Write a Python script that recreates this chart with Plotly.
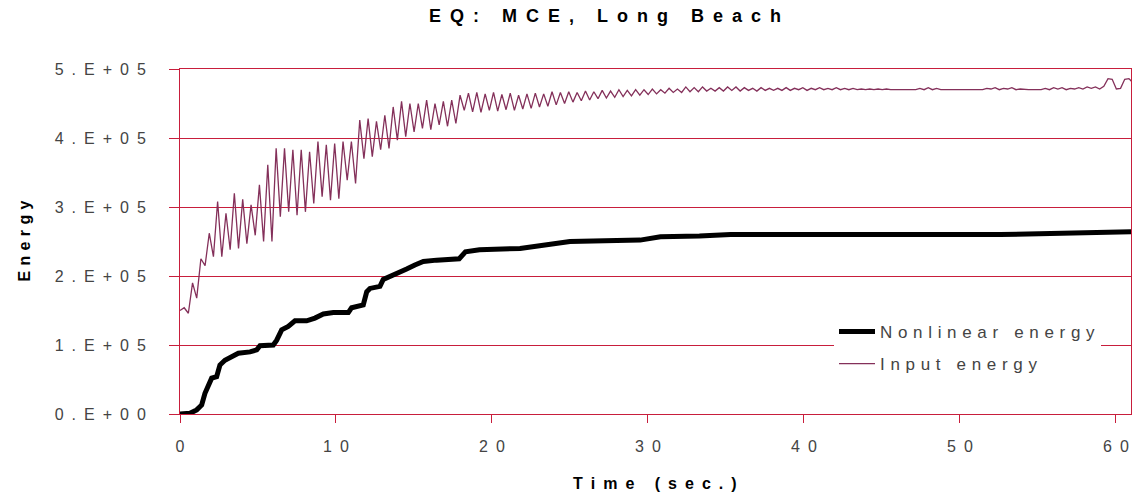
import numpy as np
import plotly.graph_objects as go

# ---------------- data (energy values in units of 1e5) ----------------
TITLE = "EQ: MCE, Long Beach"
X_TITLE = "Time (sec.)"
Y_TITLE = "Energy"
SERIES_NAMES = ["Nonlinear energy", "Input energy"]

X_TICKS = [0, 10, 20, 30, 40, 50, 60]
Y_TICKS = [0, 1, 2, 3, 4, 5]
Y_TICK_LABELS = ["0.E+00", "1.E+05", "2.E+05", "3.E+05", "4.E+05", "5.E+05"]
ENERGY_UNIT = 1e5

NONLIN_T = [0.0, 0.64, 1.07, 1.39, 1.6, 1.82, 2.03, 2.35, 2.56, 2.88, 3.31, 3.74,
            4.49, 4.92, 5.13, 5.98, 6.2, 6.52, 6.94, 7.37, 8.12, 8.65, 9.19, 9.83,
            10.79, 11.0, 11.75, 11.97, 12.18, 12.82, 13.03, 13.46, 14.0, 14.53,
            15.06, 15.6, 16.45, 17.9, 18.3, 19.2, 21.8, 23.7, 25.0, 29.5, 30.8,
            33.3, 35.3, 52.6, 61.0]
NONLIN_E = [0.0, 0.01, 0.06, 0.13, 0.30, 0.42, 0.52, 0.54, 0.71, 0.78, 0.83, 0.88,
            0.90, 0.93, 0.99, 1.00, 1.07, 1.22, 1.27, 1.35, 1.35, 1.39, 1.45, 1.47,
            1.47, 1.54, 1.58, 1.77, 1.82, 1.85, 1.95, 1.99, 2.04, 2.10,
            2.16, 2.21, 2.23, 2.25, 2.35, 2.38, 2.40, 2.45, 2.50, 2.52, 2.57,
            2.58, 2.60, 2.60, 2.64]

INPUT_DT = 0.268  # sampling step of the input-energy record (s)
INPUT_E = [
    1.50, 1.54, 1.46, 1.90, 1.68, 2.25, 2.15, 2.62, 2.28, 3.08,   # 0-9
    2.28, 2.91, 2.38, 3.20, 2.40, 3.11, 2.47, 3.03, 2.59, 3.32,   # 10-19
    2.50, 3.61, 2.50, 3.85, 2.86, 3.85, 2.93, 3.83, 2.88, 3.83,   # 20-29
    2.93, 3.80, 3.05, 3.95, 3.15, 3.90, 3.10, 3.92, 3.12, 3.95,   # 30-39
    3.39, 3.95, 3.34, 4.26, 3.70, 4.28, 3.73, 4.24, 3.83, 4.33,   # 40-49
    3.85, 4.45, 3.97, 4.53, 4.02, 4.50, 4.09, 4.50, 4.14, 4.55,   # 50-59
    4.12, 4.50, 4.19, 4.53, 4.17, 4.55, 4.21, 4.62, 4.40, 4.65,   # 60-69
    4.38, 4.66, 4.37, 4.64, 4.40, 4.66, 4.39, 4.63, 4.41, 4.65,   # 70-79
    4.40, 4.62, 4.42, 4.64, 4.43, 4.65, 4.45, 4.64, 4.46, 4.67,   # 80-89
    4.48, 4.66, 4.50, 4.67, 4.52, 4.66, 4.54, 4.68, 4.55, 4.67,   # 90-99
    4.57, 4.69, 4.58, 4.68, 4.59, 4.70, 4.60, 4.69, 4.61, 4.70,   # 100-109
    4.62, 4.70, 4.63, 4.71, 4.64, 4.70, 4.65, 4.72, 4.66, 4.71,   # 110-119
    4.66, 4.74, 4.67, 4.73, 4.67, 4.74, 4.68, 4.72, 4.68, 4.73,   # 120-129
    4.68, 4.74, 4.69, 4.74, 4.68, 4.73, 4.69, 4.72, 4.68, 4.73,   # 130-139
    4.69, 4.72, 4.69, 4.72, 4.69, 4.73, 4.69, 4.72, 4.70, 4.73,   # 140-149
    4.69, 4.72, 4.70, 4.73, 4.70, 4.72, 4.70, 4.73, 4.70, 4.72,   # 150-159
    4.70, 4.72, 4.70, 4.71, 4.70, 4.71, 4.70, 4.71, 4.70, 4.71,   # 160-169
    4.70, 4.70, 4.70, 4.70, 4.70, 4.70, 4.70, 4.72, 4.70, 4.73,   # 170-179
    4.70, 4.72, 4.70, 4.70, 4.70, 4.70, 4.70, 4.70, 4.70, 4.70,   # 180-189
    4.70, 4.71, 4.70, 4.72, 4.71, 4.73, 4.70, 4.72, 4.71, 4.73,   # 190-199
    4.70, 4.71, 4.70, 4.70, 4.70, 4.70, 4.70, 4.72, 4.70, 4.73,   # 200-209
    4.71, 4.73, 4.70, 4.72, 4.71, 4.73, 4.71, 4.74, 4.72, 4.74,   # 210-219
    4.71, 4.75, 4.86, 4.85, 4.71, 4.72, 4.85, 4.86, 4.80,         # 220-228
]

# ---------------- styling ----------------
FONT = "Liberation Sans, Arial, sans-serif"
GRID_RED = "#c81e3c"
INPUT_COLOR = "#84305a"
TEXT_GRAY = "#444444"

EN = "\u2002"      # en space
TPM = "\u2004"     # three-per-em space


def spread(s, gap):
    return gap.join(s)


input_t = np.arange(len(INPUT_E)) * INPUT_DT
input_e = np.array(INPUT_E) * ENERGY_UNIT
nonlin_e = np.array(NONLIN_E) * ENERGY_UNIT

fig = go.Figure()
fig.add_trace(go.Scatter(
    x=NONLIN_T, y=nonlin_e, mode="lines", name=spread(SERIES_NAMES[0], TPM),
    line=dict(color="black", width=5), legendgroup="a"))
fig.add_trace(go.Scatter(
    x=input_t, y=input_e, mode="lines", name=spread(SERIES_NAMES[1], TPM),
    line=dict(color=INPUT_COLOR, width=1.3), legendgroup="b"))

W, H = 1133, 500
L, R, T, B = 180, 2, 69, 86
pw, ph = W - L - R, H - T - B

fig.update_layout(
    width=W, height=H,
    margin=dict(l=L, r=R, t=T, b=B, autoexpand=False),
    paper_bgcolor="white", plot_bgcolor="white",
    font=dict(family=FONT, color=TEXT_GRAY),
    title=dict(text="<b>" + spread(TITLE, EN) + "</b>", xref="paper", x=(605 - L) / pw,
               xanchor="center", yref="container", y=1 - 16 / H, yanchor="middle",
               font=dict(size=18, color="black", family=FONT)),
    showlegend=True,
    legend=dict(x=(834 - L) / pw, xanchor="left", y=(414 - 314) / ph, yanchor="top",
                bgcolor="white", borderwidth=0, tracegroupgap=7, itemwidth=36,
                font=dict(size=17, color=TEXT_GRAY, family=FONT)),
)

fig.update_xaxes(
    range=[0, 60.97], tickmode="array", tickvals=X_TICKS,
    ticktext=[spread(str(v), EN) for v in X_TICKS],
    ticks="outside", ticklen=8, tickcolor=GRID_RED, tickwidth=1,
    showgrid=False, zeroline=False,
    showline=True, linecolor=GRID_RED, linewidth=1, mirror=True,
    tickfont=dict(size=16, color=TEXT_GRAY, family=FONT), ticklabelstandoff=10,
)
fig.update_yaxes(
    range=[0, 5 * ENERGY_UNIT], tickmode="array",
    tickvals=[v * ENERGY_UNIT for v in Y_TICKS],
    ticktext=[spread(s, EN) for s in Y_TICK_LABELS],
    ticks="outside", ticklen=10, tickcolor=GRID_RED, tickwidth=1,
    showgrid=True, gridcolor=GRID_RED, gridwidth=1, zeroline=False,
    showline=True, linecolor=GRID_RED, linewidth=1, mirror=True,
    tickfont=dict(size=16, color=TEXT_GRAY, family=FONT), ticklabelstandoff=20,
)

fig.add_annotation(text="<b>" + spread(Y_TITLE, TPM) + "</b>", xref="paper", yref="paper",
                   x=(24 - L) / pw, y=0.5, textangle=-90, showarrow=False,
                   xanchor="center", yanchor="middle",
                   font=dict(size=16, color="black", family=FONT))
fig.add_annotation(text="<b>" + spread(X_TITLE, EN) + "</b>", xref="paper", yref="paper",
                   x=(655 - L) / pw, y=-(483 - (T + ph)) / ph, showarrow=False,
                   xanchor="center", yanchor="middle",
                   font=dict(size=16, color="black", family=FONT))

# remove the default 8px page margin so the figure sits at the window's top-left
fig.write_html("out.html", config={"displayModeBar": False},
               post_script="document.body.style.margin='0';")
